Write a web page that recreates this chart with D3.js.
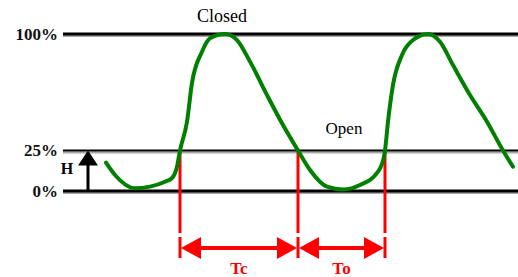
<!DOCTYPE html>
<html>
<head>
<meta charset="utf-8" />
<title> Valve cycle </title>
<script type="text/javascript" src="https://d3js.org/d3.v7.min.js"></script>
<style>
body { margin:0; background:white; }
text { font-family: "Liberation Serif", "DejaVu Serif", serif; }
</style>
</head>
<body>
<div id=valve_figure></div>

<script>

// levels drawn as horizontal lines (percent open)
var levels = [0, 25, 100]
var level_labels = ["0%", "25%", "100%"]

// valve position trace, time (s) and percent
var trace_t = [0.6, 1.5, 3.5, 5.0, 6.5, 7.2, 7.7, 8.0, 8.7, 9.2, 10.2, 11.0, 12.5, 13.7, 15.0, 16.7, 18.3, 19.8,
	21.0, 22.7, 24.3, 26.0, 27.8, 28.4, 28.5, 28.8, 29.3, 30.2, 31.3, 32.8, 34.0, 35.3, 37.0, 38.7, 40.3, 41.3]
var trace_p = [17.5, 9.9, 1.7, 2.7, 5.7, 8.0, 15.0, 25, 43.5, 68.5, 88.6, 97.2, 100, 96.1, 82.2, 60.7, 41.4, 25,
	13.0, 2.7, 1.0, 3.7, 11.9, 21.2, 25, 43.5, 67.2, 86.5, 96.1, 100, 95.0, 80.0, 60.7, 43.5, 25, 15.0]

// times where trace crosses the 25% line
var crossings = [8.0, 19.8, 28.5]
var span_labels = ["Tc", "To"]

var size = {width:518, height:277}

var svg = d3.select("#valve_figure").append("svg")
	.attr("width", size.width)
	.attr("height", size.height)

var xScale = d3.scaleLinear()
	.domain([0, 42])
	.range([100, 520])

var yScale = d3.scaleLinear()
	.domain([0, 25, 100])
	.range([191, 150.5, 34])

//level lines with a grey shadow underneath
levels.forEach(function(lv, i) {
	var y = yScale(lv)
	svg.append("line")
	.attr("x1", 63).attr("x2", size.width)
	.attr("y1", y + 2).attr("y2", y + 2)
	.attr("stroke", "#a8a8a8")
	.attr("stroke-width", 2)
	svg.append("line")
	.attr("x1", 63).attr("x2", size.width)
	.attr("y1", y).attr("y2", y)
	.attr("stroke", "black")
	.attr("stroke-width", lv == 25 ? 2 : 3)
	svg.append("text")
	.text(level_labels[i])
	.attr("x", 58)
	.attr("y", y)
	.attr("text-anchor", "end")
	.attr("dominant-baseline", "central")
	.attr("font-size", 17)
	.attr("font-weight", 700)
	.attr("fill", "#111")
})

// H arrow from 0% up to 25%
var hx = 88
svg.append("line")
	.attr("x1", hx).attr("x2", hx)
	.attr("y1", yScale(0)).attr("y2", yScale(25) + 12)
	.attr("stroke", "black")
	.attr("stroke-width", 3)
svg.append("path")
	.attr("d", "M" + hx + "," + yScale(25) + " L" + (hx - 10) + "," + (yScale(25) + 15) + " L" + (hx + 10) + "," + (yScale(25) + 15) + " Z")
	.attr("fill", "black")
svg.append("text")
	.text("H")
	.attr("x", 67)
	.attr("y", (yScale(0) + yScale(25)) / 2 - 2)
	.attr("text-anchor", "middle")
	.attr("dominant-baseline", "central")
	.attr("font-size", 16)
	.attr("font-weight", 700)

//red markers at the crossings
crossings.forEach(function(t) {
	var x = xScale(t)
	svg.append("line")
	.attr("x1", x).attr("x2", x)
	.attr("y1", yScale(25)).attr("y2", 233)
	.attr("stroke", "red")
	.attr("stroke-width", 3)
	svg.append("line")
	.attr("x1", x).attr("x2", x)
	.attr("y1", 237).attr("y2", 258)
	.attr("stroke", "red")
	.attr("stroke-width", 3)
})

// double headed arrows between crossings
var ay = 248
function head(tip, dir) {
	return "M" + tip + "," + ay + " L" + (tip - dir * 20) + "," + (ay - 11) + " L" + (tip - dir * 20) + "," + (ay + 11) + " Z"
}
for (i = 0; i < crossings.length - 1; i++) {
	var x0 = xScale(crossings[i]) + 1, x1 = xScale(crossings[i + 1]) - 1
	svg.append("line")
	.attr("x1", x0 + 10).attr("x2", x1 - 10)
	.attr("y1", ay).attr("y2", ay)
	.attr("stroke", "red")
	.attr("stroke-width", 4)
	svg.append("path").attr("d", head(x0, -1)).attr("fill", "red")
	svg.append("path").attr("d", head(x1, 1)).attr("fill", "red")
	svg.append("text")
	.text(span_labels[i])
	.attr("x", (x0 + x1) / 2)
	.attr("y", 268)
	.attr("text-anchor", "middle")
	.attr("dominant-baseline", "central")
	.attr("font-size", 17)
	.attr("font-weight", 700)
	.attr("fill", "red")
}

// trace
var valueline = d3.line()
	.x(function(d) { return xScale(d[0]) })
	.y(function(d) { return yScale(d[1]) })
	.curve(d3.curveMonotoneX)

svg.append("path")
	.datum(trace_t.map(function(t, i) { return [t, trace_p[i]] }))
	.attr("d", valueline)
	.attr("fill", "none")
	.attr("stroke", "#008000")
	.attr("stroke-width", 4)
	.attr("stroke-linecap", "round")

svg.append("text")
	.text("Closed")
	.attr("x", 222)
	.attr("y", 16)
	.attr("text-anchor", "middle")
	.attr("dominant-baseline", "central")
	.attr("font-size", 18)

svg.append("text")
	.text("Open")
	.attr("x", 344)
	.attr("y", 128)
	.attr("text-anchor", "middle")
	.attr("dominant-baseline", "central")
	.attr("font-size", 17)

</script>
</body>
</html>
